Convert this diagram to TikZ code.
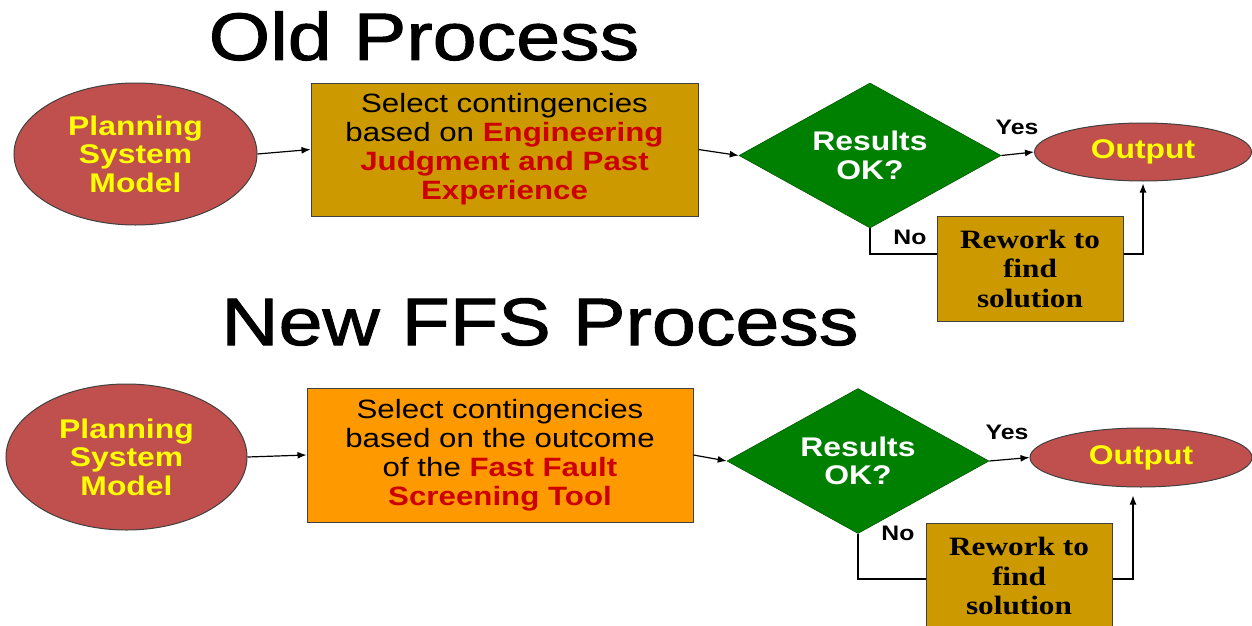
\documentclass[tikz,border=0pt]{standalone}
\usepackage{fontspec}
\setmainfont{Liberation Sans}[FakeStretch=1.18]
\newfontfamily\titlefont{Liberation Sans}[FakeStretch=1.18,FakeBold=1.5]
\newfontfamily\reworkfont{Liberation Serif}[FakeStretch=1.18]
\usetikzlibrary{shapes.geometric,arrows.meta,positioning}
\definecolor{modelred}{RGB}{192,80,77}
\definecolor{boxgold}{RGB}{204,153,0}
\definecolor{boxorange}{RGB}{255,153,0}
\definecolor{okgreen}{RGB}{0,128,0}
\definecolor{hotred}{RGB}{204,0,0}
\definecolor{textyellow}{RGB}{255,255,0}
\newcommand{\hilite}[1]{{\bfseries\color{hotred}#1}}

\begin{document}
\begin{tikzpicture}[x=1pt,y=-1pt,
    model/.style={ellipse,draw=black!75,line width=1pt,fill=modelred,inner sep=0pt,
      text=textyellow,font=\bfseries\fontsize{27}{28.5}\selectfont,align=center},
    selectbox/.style={rectangle,draw=black!75,line width=1pt,inner sep=0pt,
      font=\fontsize{26.5}{29}\selectfont,align=center},
    decision/.style={diamond,aspect=1.8,draw=okgreen!70!black,line width=0.6pt,
      fill=okgreen,inner sep=0pt,text=white,
      font=\bfseries\fontsize{27}{28.5}\selectfont,align=center},
    rework/.style={rectangle,draw=black!75,line width=1pt,fill=boxgold,inner sep=0pt,
      font=\reworkfont\bfseries\fontsize{26.5}{29.5}\selectfont,align=center},
    flow/.style={line width=1.2pt,-{Latex[length=9pt,width=7pt]}},
    answer/.style={font=\bfseries\fontsize{21}{21}\selectfont},
    heading/.style={font=\titlefont\fontsize{67}{67}\selectfont}]

    \useasboundingbox (0,0) rectangle (1252,626);
    \clip (0,0) rectangle (1252,626);

    % old process
    \node[heading] (heading1) at (424,36) {Old Process};
    \node[model,minimum width=243pt,minimum height=142pt] (model1) at (135.5,154)
        {Planning\\System\\Model};
    \node[selectbox,fill=boxgold,minimum width=387pt,minimum height=133pt] (select1) at (504.5,149.5)
        {Select contingencies\\based on \hilite{Engineering}\\\hilite{Judgment and Past}\\\hilite{Experience}};
    \node[decision,minimum width=262pt,minimum height=145pt] (check1) at (870,155.5) {Results\\OK?};
    \node[model,minimum width=217pt,minimum height=58pt] (out1) at (1143,152) {Output};
    \node[rework,minimum width=186pt,minimum height=105pt] (rework1) at (1030,268.5)
        {Rework to\\find\\solution};
    \node[answer] (yes1) at (1017,127) {Yes};
    \node[answer] (no1) at (910,237) {No};

    \draw[flow] (model1.east) -- (select1.west);
    \draw[flow] (select1.east) -- (check1.west);
    \draw[flow] (check1.east) -- (out1.west);
    \draw[line width=1.2pt] (check1.south) |- ([yshift=14.5pt]rework1.west);
    \draw[flow] ([yshift=14.5pt]rework1.east) -| ([yshift=-2pt]out1.south);

    % new FFS process
    \node[heading] (heading2) at (540,322) {New FFS Process};
    \node[model,minimum width=241pt,minimum height=146pt] (model2) at (126.5,457)
        {Planning\\System\\Model};
    \node[selectbox,fill=boxorange,minimum width=386pt,minimum height=134pt] (select2) at (500,455)
        {Select contingencies\\based on the outcome\\of the \hilite{Fast Fault}\\\hilite{Screening Tool}};
    \node[decision,minimum width=262pt,minimum height=145pt] (check2) at (858,461) {Results\\OK?};
    \node[model,minimum width=222pt,minimum height=59pt] (out2) at (1141,457.5) {Output};
    \node[rework,minimum width=186pt,minimum height=106pt] (rework2) at (1019,576)
        {Rework to\\find\\solution};
    \node[answer] (yes2) at (1007,432) {Yes};
    \node[answer] (no2) at (898,533) {No};

    \draw[flow] (model2.east) -- (select2.west);
    \draw[flow] (select2.east) -- (check2.west);
    \draw[flow] (check2.east) -- (out2.west);
    \draw[line width=1.2pt] (check2.south) |- ([yshift=-3pt]rework2.west);
    \draw[flow] ([yshift=-3pt]rework2.east) -| ([xshift=-8pt,yshift=-8pt]out2.south);
\end{tikzpicture}
\end{document}
